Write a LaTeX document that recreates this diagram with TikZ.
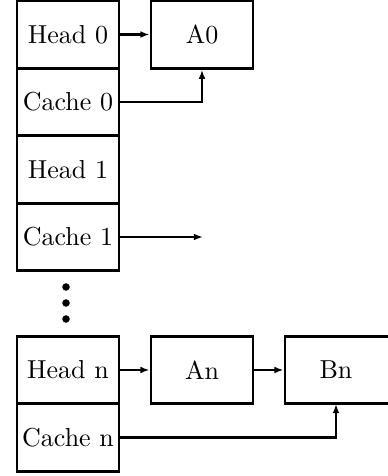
\documentclass[tikz,border=0pt]{standalone}
\usetikzlibrary{arrows.meta}
\begin{document}
\begin{tikzpicture}[x=0.385pt,y=-0.385pt,
  cell/.style={draw,line width=1.1pt,minimum width=102*0.385pt,minimum height=67.5*0.385pt,inner sep=0pt,font=\normalsize},
  link/.style={line width=0.8pt,-{Latex[length=3.5pt,width=2.6pt]}},
  dotmark/.style={fill,circle,inner sep=0pt,minimum size=2.9pt}]
\useasboundingbox (0,0) rectangle (387,476);
\node[cell] (h0) at (68,34.5) {Head 0};
\node[cell] (c0) at (68,102) {Cache 0};
\node[cell] (h1) at (68,169.5) {Head 1};
\node[cell] (c1) at (68,237) {Cache 1};
\node[cell] (hn) at (68,370) {Head n};
\node[cell] (cn) at (68,437.5) {Cache n};
\node[cell] (a0) at (202,34.5) {A0};
\node[cell] (an) at (202,370) {An};
\node[cell,minimum width=106*0.385pt] (bn) at (338,370) {};
\node at (336,370) {Bn};
\node[dotmark] (d1) at (66,287) {};
\node[dotmark] (d2) at (66,303) {};
\node[dotmark] (d3) at (66,319) {};
\coordinate (c1end) at (203,237);
\coordinate (bnin) at (336,404);
\draw[link,line width=1.1pt] (h0) -- (a0);
\draw[link] (c0.east) -| (a0.south);
\draw[link] (c1.east) -- (c1end);
\draw[link] (hn) -- (an);
\draw[link] (an) -- (bn);
\draw[link] (cn.east) -| (bnin);
\end{tikzpicture}
\end{document}
